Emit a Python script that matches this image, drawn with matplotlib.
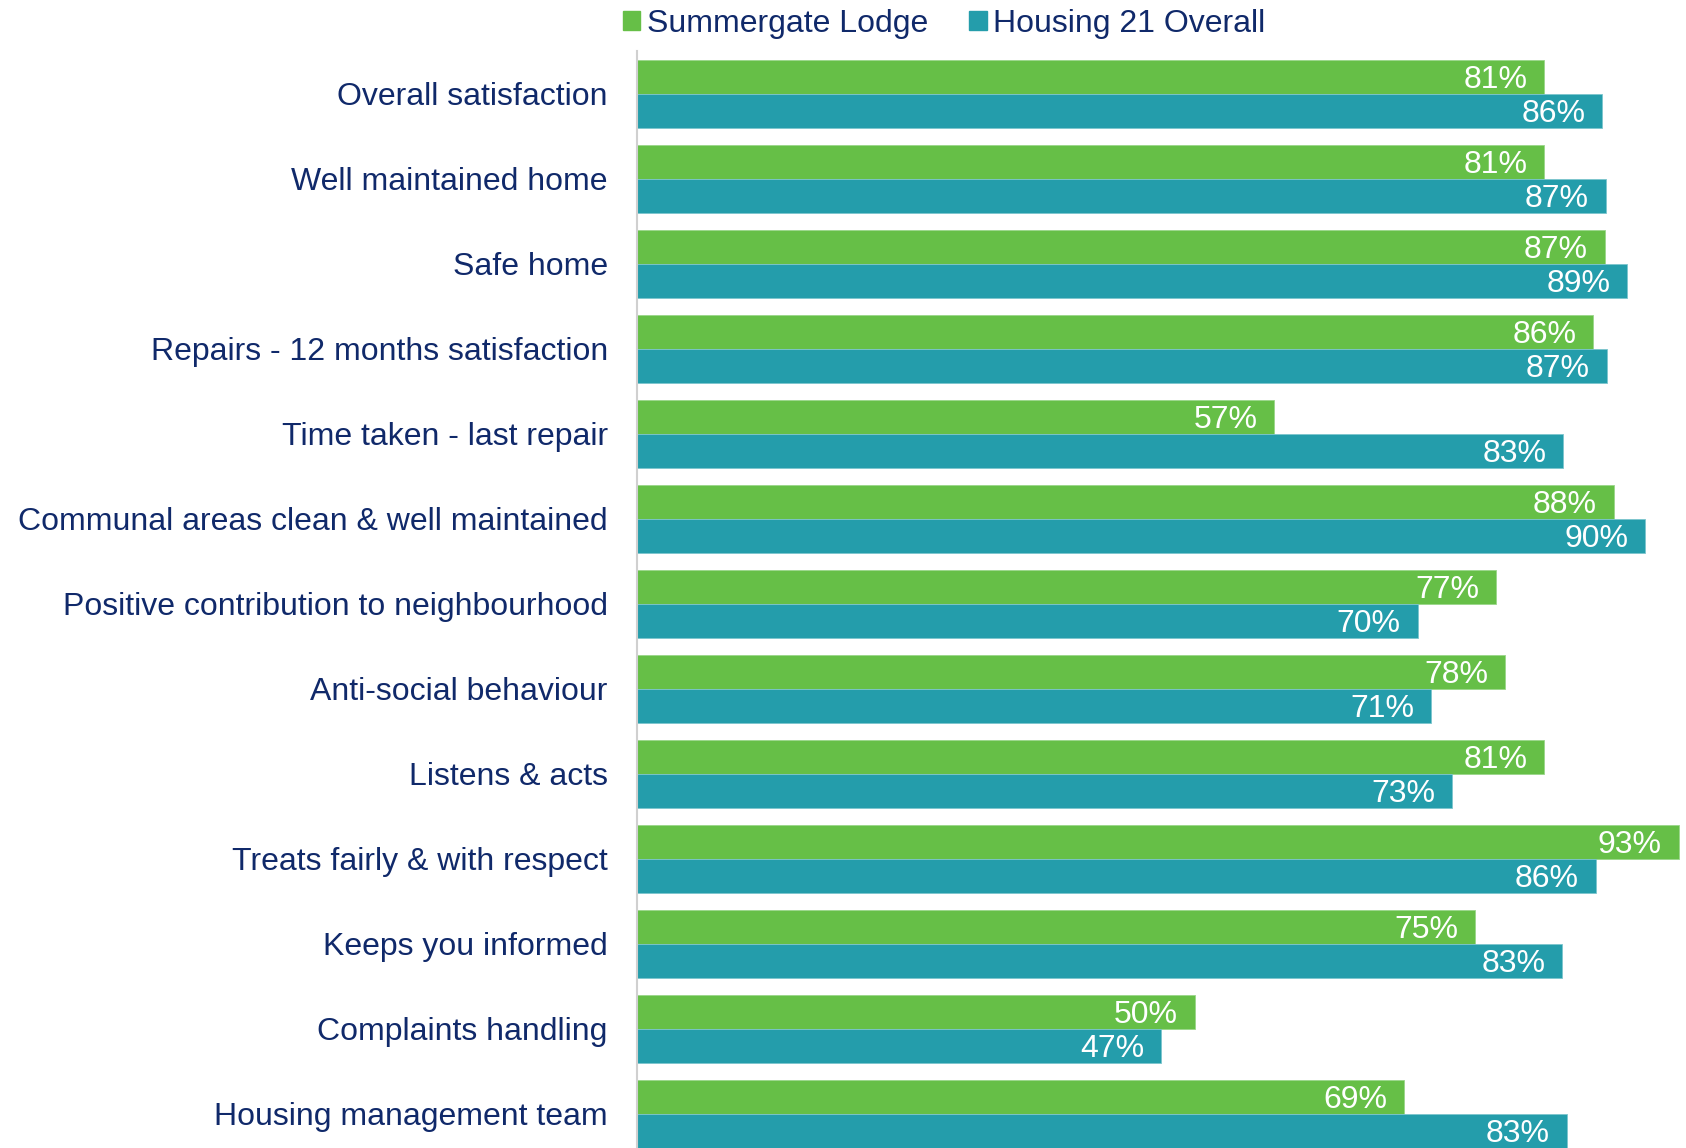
import matplotlib.pyplot as plt
from matplotlib.patches import Patch
import numpy as np

categories = ["Overall satisfaction", "Well maintained home", "Safe home",
              "Repairs - 12 months satisfaction", "Time taken - last repair",
              "Communal areas clean & well maintained",
              "Positive contribution to neighbourhood", "Anti-social behaviour",
              "Listens & acts", "Treats fairly & with respect",
              "Keeps you informed", "Complaints handling",
              "Housing management team"]
# bar lengths, printed labels as shown
summergate = [81.0, 81.0, 86.4, 85.4, 56.9, 87.2, 76.7, 77.5, 81.0, 93.0, 74.8, 49.8, 68.5]
housing21 = [86.2, 86.5, 88.4, 86.6, 82.7, 90.0, 69.7, 70.9, 72.8, 85.6, 82.6, 46.8, 83.0]
summergate_labels = [81, 81, 87, 86, 57, 88, 77, 78, 81, 93, 75, 50, 69]
housing21_labels = [86, 87, 89, 87, 83, 90, 70, 71, 73, 86, 83, 47, 83]

green = "#66BF47"
teal = "#249DAB"
navy = "#10296A"

plt.rcParams['font.family'] = ['Liberation Sans', 'DejaVu Sans']

fig = plt.figure(figsize=(16.86, 11.48), dpi=100)
ax = fig.add_axes([637 / 1686, 0, 1 - 637 / 1686, 1 - 51 / 1148])

y = np.arange(len(categories))
h = 0.4
ax.barh(y - h / 2, summergate, height=h, color=green, edgecolor="#9AD68A", linewidth=0.6)
ax.barh(y + h / 2, housing21, height=h, color=teal, edgecolor="#7CC5CE", linewidth=0.6)

for i in range(len(categories)):
    ax.text(summergate[i] - 1.5, y[i] - h / 2 + 0.04, f"{summergate_labels[i]}%", color="white",
            fontsize=23, ha="right", va="center")
    ax.text(housing21[i] - 1.5, y[i] + h / 2 + 0.04, f"{housing21_labels[i]}%", color="white",
            fontsize=23, ha="right", va="center")

ax.set_xlim(0, (1686 - 637) / 11.2)
ax.set_ylim(12.4, -0.5)
ax.set_yticks(y)
ax.set_yticklabels(categories, fontsize=23, color=navy)
ax.tick_params(axis="y", length=0, pad=21)
ax.set_xticks([])
for s in ["top", "right", "bottom"]:
    ax.spines[s].set_visible(False)
ax.spines["left"].set_color("#D0D0D0")
ax.spines["left"].set_linewidth(1.5)

handles = [Patch(color=green, label="Summergate Lodge"),
           Patch(color=teal, label="Housing 21 Overall")]
leg = fig.legend(handles=handles, loc="center", bbox_to_anchor=(0.56, 0.979), ncol=2,
                 frameon=False, fontsize=23, handlelength=0.55, handleheight=0.55,
                 handletextpad=0.2, columnspacing=1.3)
for t in leg.get_texts():
    t.set_color(navy)

fig.savefig("out.png", dpi=100)
